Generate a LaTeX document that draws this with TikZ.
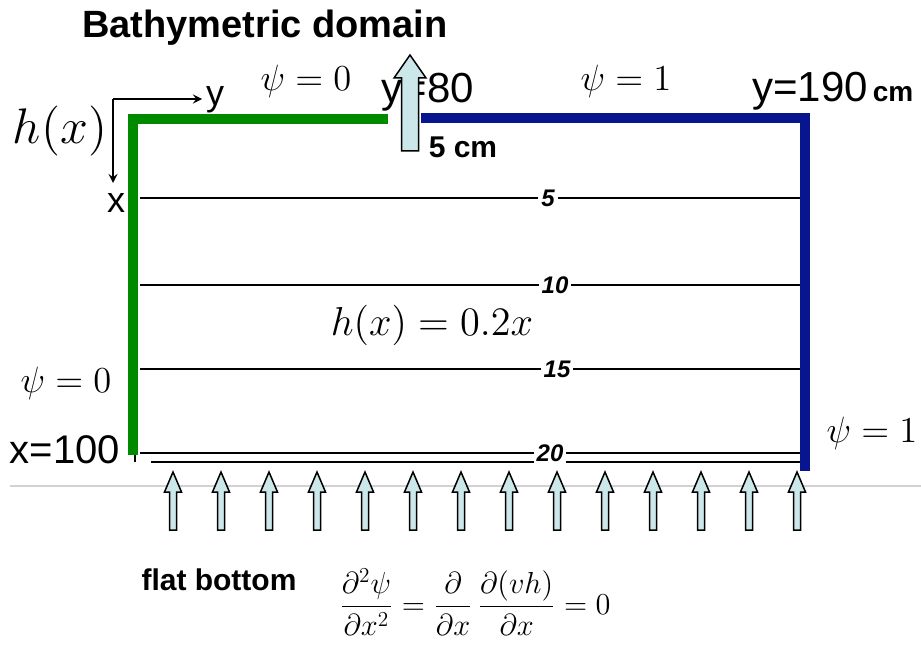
\documentclass[tikz,border=0pt]{standalone}
\usepackage{fontspec}
\setsansfont{Liberation Sans}
\usetikzlibrary{positioning}
\DeclareFontShape{OML}{cmm}{m}{it}{<-> cmmi12}{\skewchar\font'177}
\DeclareFontShape{OMS}{cmsy}{m}{n}{<-> cmsy10}{\skewchar\font'60}
\DeclareFontShape{OT1}{cmr}{m}{n}{<-> cmr12}{}
\DeclareFontShape{OMX}{cmex}{m}{n}{<-> cmex10}{}
\definecolor{wallgreen}{HTML}{008A00}
\definecolor{wallblue}{HTML}{07168F}
\definecolor{flowfill}{HTML}{CCE7EA}

\begin{document}
\begin{tikzpicture}[x=0.5pt, y=-0.5pt,
    wall/.style={line width=5pt},
    contour/.style={line width=1pt},
    depth/.style={fill=white, inner sep=1.5pt, font=\fontsize{12}{14}\selectfont\sffamily\bfseries\itshape},
    coordlabel/.style={font=\fontsize{18}{20}\selectfont\sffamily, inner sep=0pt, anchor=base},
    boldlabel/.style={font=\fontsize{15}{17}\selectfont\sffamily\bfseries, inner sep=0pt, anchor=base},
    mathlabel/.style={inner sep=0pt, anchor=base},
    smallarrow/.pic={\draw[fill=flowfill, line width=0.75pt]
        (-3.5,0) -- (-3.5,-38) -- (-8.5,-38) -- (0,-58) -- (8.5,-38) -- (3.5,-38) -- (3.5,0) -- cycle;},
    bigarrow/.pic={\draw[fill=flowfill, line width=0.75pt]
        (-8.5,0) -- (-8.5,-73) -- (-16,-73) -- (0,-96) -- (16,-73) -- (8.5,-73) -- (8.5,0) -- cycle;},
]
\useasboundingbox (0,0) rectangle (921,647);

% title
\node[font=\fontsize{19}{21}\selectfont\sffamily\bfseries, inner sep=0pt, anchor=base] (title) at (265,38) {Bathymetric domain};

% depth contours
\coordinate (c5w) at (140,198);   \coordinate (c5e) at (800,198);
\coordinate (c10w) at (140,285);  \coordinate (c10e) at (800,285);
\coordinate (c15w) at (140,369);  \coordinate (c15e) at (800,369);
\coordinate (c20w) at (140,453);  \coordinate (c20e) at (800,453);
\coordinate (c21w) at (151,462);  \coordinate (c21e) at (800,462);
\draw[contour] (c5w) -- (c5e);
\draw[contour] (c10w) -- (c10e);
\draw[contour] (c15w) -- (c15e);
\draw[contour] (c20w) -- (c20e);
\draw[line width=0.7pt] (c21w) -- (c21e);
\draw[line width=0.7pt] (135,455) -- (135,462);
\node[depth] (d5) at (548,198) {5};
\node[depth] (d10) at (555,285) {10};
\node[depth] (d15) at (557,369) {15};
\node[depth] (d20) at (550,453) {20};

% ground line
\coordinate (gw) at (10,486);
\coordinate (ge) at (921,486);
\draw[gray!35, line width=0.6pt] (gw) -- (ge);

% boundaries
\coordinate (g1) at (388,119);
\coordinate (g2) at (133,119);
\coordinate (g3) at (133,455);
\coordinate (b1) at (421,118);
\coordinate (b2) at (805,118);
\coordinate (b3) at (805,471);
\draw[wall, wallgreen] (g1) -- (g2) -- (g3);
\draw[wall, wallblue] (b1) -- (b2) -- (b3);

% axes
\coordinate (ax0) at (113,99);
\coordinate (axy) at (202,99);
\coordinate (axx) at (113,183);
\draw[line width=1pt, -stealth] (ax0) -- (axy);
\draw[line width=1pt, -stealth] (ax0) -- (axx);
\node[coordlabel] (ylab) at (215,105) {y};
\node[coordlabel] (xlab) at (116,213) {x};

% coordinate labels
\node[coordlabel, font=\fontsize{21}{23}\selectfont\sffamily] (y80) at (428,103) {y=80};
\node[coordlabel, font=\fontsize{21}{23}\selectfont\sffamily] (y190) at (810,102) {y=190};
\node[boldlabel, font=\fontsize{14}{16}\selectfont\sffamily\bfseries] (cm) at (893,102) {cm};
\node[coordlabel, font=\fontsize{20}{22}\selectfont\sffamily] (x100) at (65,463) {x=100};

% outflow
\pic at (410,151) {bigarrow};
\node[boldlabel] (width) at (463,157) {5 cm};

% inflow along the flat bottom
\foreach \i in {0,...,13}
    \pic at ({173+48*\i},530) {smallarrow};

% labels
\node[mathlabel, font=\fontsize{25}{28}\selectfont] (hx) at (60,143) {$h(x)$};
\node[mathlabel, font=\fontsize{18.3}{21}\selectfont] (psiTopL) at (306,91) {$\psi=0$};
\node[mathlabel, font=\fontsize{18.3}{21}\selectfont] (psiTopR) at (626,91) {$\psi=1$};
\node[mathlabel, font=\fontsize{18.3}{21}\selectfont] (psiLeft) at (66,392) {$\psi=0$};
\node[mathlabel, font=\fontsize{18.3}{21}\selectfont] (psiRight) at (872,442) {$\psi=1$};
\node[mathlabel, font=\fontsize{20.2}{23}\selectfont] (depthlaw) at (432,335) {$h(x)=0.2x$};
\node[boldlabel] (flat) at (219,590) {flat bottom};
\node[inner sep=0pt, font=\fontsize{15.2}{18}\selectfont] (balance) at (475,602)
    {$\displaystyle\frac{\partial^2\psi}{\partial x^2}=\frac{\partial}{\partial x}\,\frac{\partial(vh)}{\partial x}=0$};

\end{tikzpicture}
\end{document}
